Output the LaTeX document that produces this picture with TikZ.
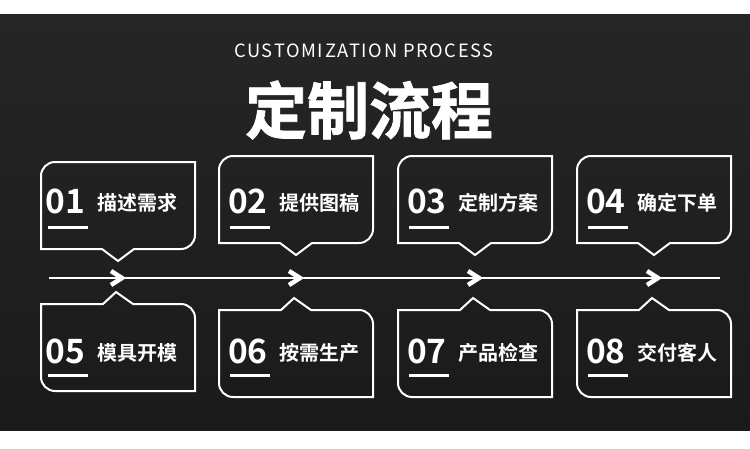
\documentclass[tikz,border=0pt]{standalone}
\usepackage{fontspec}
\newfontfamily\cjk{Noto Sans CJK SC}
\newfontfamily\cjkb{Noto Sans CJK SC Bold}
\newfontfamily\cjkh[FakeBold=1.2]{Noto Sans CJK SC Bold}
\newfontfamily\subfont[LetterSpace=9]{Noto Sans CJK SC}
\definecolor{bgtop}{RGB}{38,38,38}
\definecolor{bgbot}{RGB}{26,26,26}
\tikzset{
  boxline/.style={draw=white, line width=2pt, line join=miter},
  numtxt/.style={text=white, inner sep=0pt, anchor=base west, font=\cjkb\fontsize{33.5}{33.5}\selectfont},
  steptxt/.style={text=white, inner sep=0pt, anchor=west, font=\cjkb\fontsize{20}{20}\selectfont},
  uline/.style={draw=white, line width=3pt},
  chev/.style={draw=white, line width=4.5pt, line join=miter, miter limit=10}
}
\begin{document}
\begin{tikzpicture}[x=1pt,y=-1pt]
\useasboundingbox (0,0) rectangle (750,448);
\fill[white] (0,0) rectangle (750,448);
\shade[top color=bgtop, bottom color=bgbot] (0,14) rectangle (750,430);
% titles
\node[text=white, inner sep=0pt, font=\subfont\fontsize{18.3}{18.3}\selectfont] (sub) at (364,50.5) {CUSTOMIZATION PROCESS};
\node[text=white, inner sep=0pt, font=\cjkh\fontsize{62}{62}\selectfont] (title) at (369,110) {定制流程};
% timeline
\coordinate (ls) at (49,278);
\coordinate (le) at (720,278);
\draw[white, line width=2.5pt] (ls) -- (le);
\foreach \c in {118,296,475,654}{
  \draw[chev] (\c-7,271) -- (\c+4,278) -- (\c-7,285);
}
% top boxes
\foreach \L/\T/\B in {41/162/249,219/156/243,398/156/243,577/156/243}{
  \pgfmathsetmacro{\R}{\L+154}
  \pgfmathsetmacro{\cx}{\L+77}
  \draw[boxline] (\L,\B) -- (\L,\T+14) arc(180:270:14) -- (\R,\T) -- (\R,\B-14) arc(0:90:14)
     -- (\cx+16,\B) -- (\cx,\B+12) -- (\cx-16,\B) -- cycle;
}
% bottom boxes
\foreach \L/\T/\B in {41/304/391,219/310/397,398/310/397,577/310/397}{
  \pgfmathsetmacro{\R}{\L+154}
  \pgfmathsetmacro{\cx}{\L+77}
  \draw[boxline] (\L,\T) -- (\cx-15,\T) -- (\cx-2,\T-12) -- (\cx+15,\T) -- (\R-14,\T) arc(270:360:14)
     -- (\R,\B) -- (\L+14,\B) arc(90:180:14) -- cycle;
}
% texts top
\node[numtxt] (n1) at (45.5,213) {01};
\node[steptxt] (t1) at (97,203) {描述需求};
\node[numtxt] (n2) at (228,213) {02};
\node[steptxt] (t2) at (279,203) {提供图稿};
\node[numtxt] (n3) at (407,213) {03};
\node[steptxt] (t3) at (458,203) {定制方案};
\node[numtxt] (n4) at (586,213) {04};
\node[steptxt] (t4) at (637,203) {确定下单};
% texts bottom
\node[numtxt] (n5) at (45.5,363) {05};
\node[steptxt] (t5) at (97,353) {模具开模};
\node[numtxt] (n6) at (228,363) {06};
\node[steptxt] (t6) at (279,353) {按需生产};
\node[numtxt] (n7) at (407,363) {07};
\node[steptxt] (t7) at (458,353) {产品检查};
\node[numtxt] (n8) at (586,363) {08};
\node[steptxt] (t8) at (637,353) {交付客人};
% underlines
\foreach \x in {48,230,409,588}{
  \draw[uline] (\x,227) -- (\x+40,227);
  \draw[uline] (\x,375) -- (\x+40,375);
}
\end{tikzpicture}
\end{document}
